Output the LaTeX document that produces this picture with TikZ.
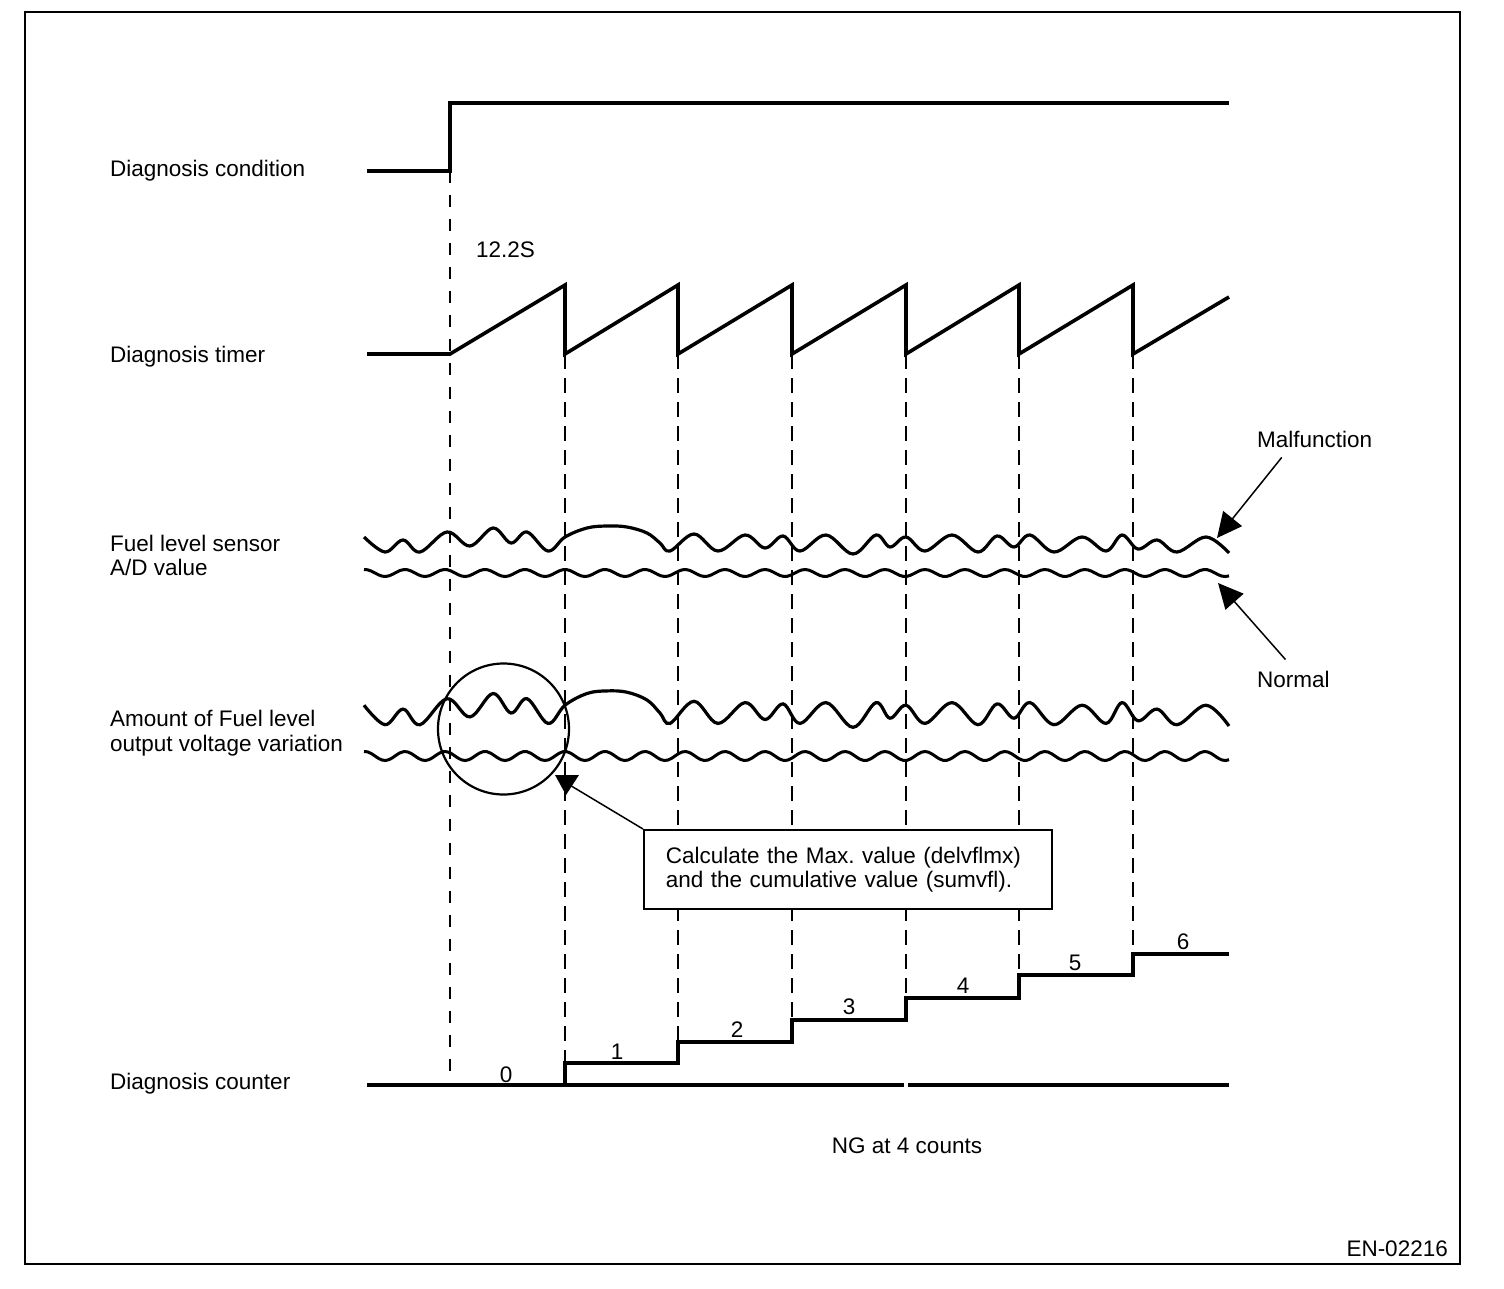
\documentclass[tikz,border=0pt]{standalone}
\usepackage{fontspec}
\setmainfont{Liberation Sans}
\usetikzlibrary{arrows.meta}
\frenchspacing
\begin{document}
\begin{tikzpicture}[x=1pt,y=-1pt,
  sig/.style={line width=3.6pt, line join=miter, line cap=butt},
  wave/.style={line width=3.2pt, line cap=butt},
  guide/.style={line width=1.3pt, dash pattern=on 15pt off 9pt},
  guidebold/.style={line width=2.4pt, dash pattern=on 12pt off 12pt},
  lbl/.style={font=\fontsize{22.5}{24}\selectfont, inner sep=0pt, anchor=base west},
  num/.style={font=\fontsize{22.5}{24}\selectfont, inner sep=0pt},
  ptr/.style={line width=1.5pt, -{Triangle[length=25pt,width=24pt]}}
]
\useasboundingbox (0,0) rectangle (1504,1288);
\draw[line width=2.3pt] (25,12) rectangle (1460,1264);

% labels
\node[lbl] (cond) at (110,176) {Diagnosis condition};
\node[lbl] (t122) at (476,257) {12.2S};
\node[lbl] (timer) at (110,362) {Diagnosis timer};
\node[lbl] (fuelA) at (110,551) {Fuel level sensor};
\node[lbl] (fuelB) at (110,575) {A/D value};
\node[lbl] (amtA) at (110,726) {Amount of Fuel level};
\node[lbl] (amtB) at (110,751) {output voltage variation};
\node[lbl] (cnt) at (110,1089) {Diagnosis counter};
\node[lbl] (malf) at (1257,447) {Malfunction};
\node[lbl] (norm) at (1257,687) {Normal};
\node[lbl, anchor=base] (ng) at (907,1153) {NG at 4 counts};
\node[lbl, anchor=base east] (code) at (1448,1256) {EN-02216};

% guide lines
\draw[guidebold] (450,171) -- (450,1085);
\draw[guide] (565,354) -- (565,1063);
\draw[guide] (678,354) -- (678,1042);
\draw[guide] (792,354) -- (792,1020);
\draw[guide] (906,354) -- (906,998);
\draw[guide] (1019,354) -- (1019,975);
\draw[guide] (1133,354) -- (1133,954);

% diagnosis condition
\draw[sig] (367,171) -- (450,171) -- (450,103) -- (1229,103);

% diagnosis timer
\draw[sig] (367,354) -- (450,354) -- (565,285) -- (565,354) -- (678,285) -- (678,354)
  -- (792,285) -- (792,354) -- (906,285) -- (906,354) -- (1019,285) -- (1019,354)
  -- (1133,285) -- (1133,354) -- (1229,297);

% malfunction waves
\def\malwave{plot[smooth, tension=0.6] coordinates {(364,-6) (385,9) (403,-3) (420,9) (447,-11) (470,3) (493,-15) (511,0) (527,-11) (548,8) (565,-6) (587,-15) (607,-17) (627,-16) (647,-10) (660,0) (670,8) (694,-9) (718,8) (745,-8) (765,5) (783,-7) (800,8) (826,-8) (853,11) (876,-8) (890,4) (906,-6) (925,8) (952,-8) (978,9) (997,-7) (1014,4) (1030,-8) (1054,9) (1082,-6) (1106,8) (1122,-8) (1138,6) (1157,-3) (1177,9) (1206,-6) (1229,10)}}
\begin{scope}[shift={(0,543)}]
  \draw[wave] \malwave;
\end{scope}
\begin{scope}[shift={(0,713)}, yscale=1.3]
  \draw[wave] \malwave;
\end{scope}

% normal waves
\draw[wave, line width=3pt] plot[domain=364:1229, samples=240, smooth] (\x, {573 + 3.5*sin(9*\x-135)});
\draw[wave, line width=3pt] plot[domain=364:1229, samples=240, smooth] (\x, {756 + 4.5*sin(9*\x-135)});

% diagnosis counter
\draw[sig] (367,1085) -- (904,1085);
\draw[sig] (908,1085) -- (1229,1085);
\draw[sig] (565,1085) -- (565,1063) -- (678,1063) -- (678,1042) -- (792,1042) -- (792,1020)
  -- (906,1020) -- (906,998) -- (1019,998) -- (1019,975) -- (1133,975) -- (1133,954) -- (1229,954);
\node[num] (n0) at (506,1075) {0};
\node[num] (n1) at (617,1052) {1};
\node[num] (n2) at (737,1030) {2};
\node[num] (n3) at (849,1007) {3};
\node[num] (n4) at (963,986) {4};
\node[num] (n5) at (1075,963) {5};
\node[num] (n6) at (1183,942) {6};

% circle
\draw[line width=2.2pt] (503.5,729) circle[radius=65.5];

% callout
\node[draw, fill=white, line width=1.5pt, anchor=north west, minimum width=408pt, minimum height=79pt,
  text width=364pt, inner xsep=22pt, align=left, font=\fontsize{22.5}{24}\selectfont] (callout) at (643,829)
  {Calculate the Max. value (delvflmx)\\and the cumulative value (sumvfl).};
\coordinate (ctip) at (568,784);
\draw[line width=1.5pt] (callout.north west) -- (ctip);
\fill (555,775) -- (579,775) -- (566,795) -- cycle;

% malfunction / normal pointers
\coordinate (mtip) at (1217,538);
\coordinate (ntip) at (1218,583);
\draw[ptr] ([xshift=-33pt,yshift=-10pt]malf.south) -- (mtip);
\draw[ptr] ([xshift=-8pt,yshift=11pt]norm.north) -- (ntip);
\end{tikzpicture}
\end{document}
